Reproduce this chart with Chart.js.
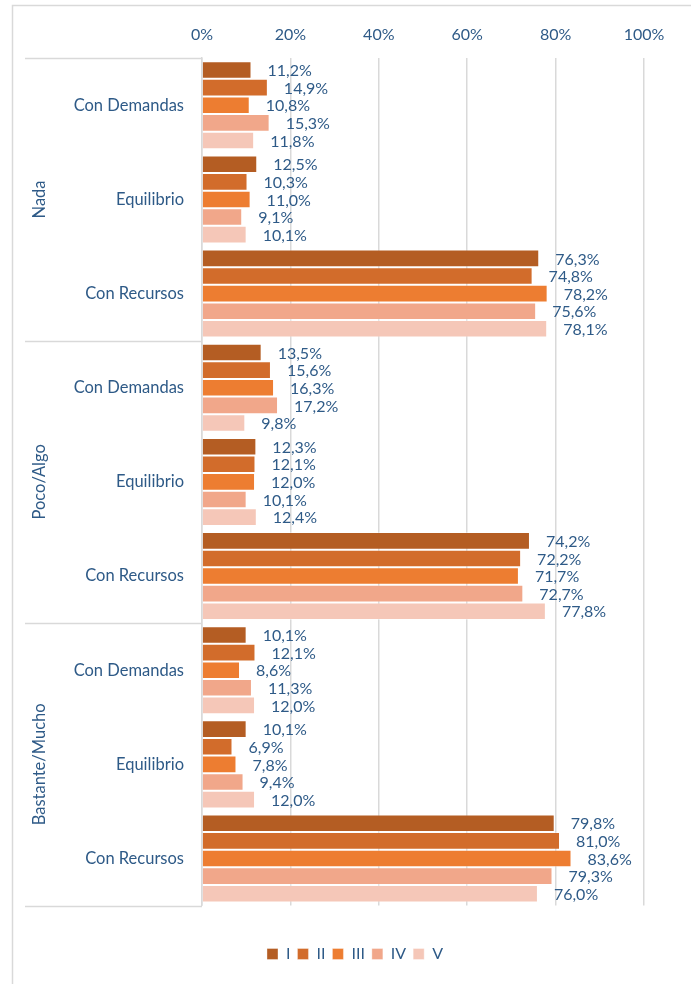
<!DOCTYPE html>
<html>
<head>
<meta charset="utf-8">
<script src="https://cdn.jsdelivr.net/npm/chart.js@4"></script>
<style>
  html, body { margin: 0; padding: 0; background: #fff; }
  #wrap { position: relative; width: 691px; height: 984px; }
</style>
</head>
<body>
<div id="wrap"><canvas id="c" width="691" height="984"></canvas></div>
<script>
const groups = ["Nada", "Poco/Algo", "Bastante/Mucho"];
const subcats = ["Con Demandas", "Equilibrio", "Con Recursos"];
const series = ["I", "II", "III", "IV", "V"];
const xTicks = [0, 20, 40, 60, 80, 100];

// one array per series, in order Nada(CD, Eq, CR), Poco/Algo(...), Bastante/Mucho(...)
const serieI   = [11.2, 12.5, 76.3, 13.5, 12.3, 74.2, 10.1, 10.1, 79.8];
const serieII  = [14.9, 10.3, 74.8, 15.6, 12.1, 72.2, 12.1, 6.9, 81.0];
const serieIII = [10.8, 11.0, 78.2, 16.3, 12.0, 71.7, 8.6, 7.8, 83.6];
const serieIV  = [15.3, 9.1, 75.6, 17.2, 10.1, 72.7, 11.3, 9.4, 79.3];
const serieV   = [11.8, 10.1, 78.1, 9.8, 12.4, 77.8, 12.0, 12.0, 76.0];

const colors = ["#B45D23", "#D26C2B", "#ED7D31", "#F1A78A", "#F5C7B8"];
const textColor = "#2E5A87";
const lineColor = "#D9D9D9";
const font = "Lato";

const labels = [];
groups.forEach(() => subcats.forEach(s => labels.push(s)));

const fmt = v => v.toFixed(1).replace(".", ",") + "%";

// value labels at the end of each bar
const valueLabels = {
  id: "valueLabels",
  afterDatasetsDraw(chart) {
    const ctx = chart.ctx;
    ctx.save();
    ctx.font = "16px " + font;
    ctx.fillStyle = textColor;
    ctx.textAlign = "left";
    ctx.textBaseline = "middle";
    chart.data.datasets.forEach((ds, i) => {
      chart.getDatasetMeta(i).data.forEach((bar, j) => {
        ctx.fillText(fmt(ds.data[j]), bar.x + 16, bar.y + 1);
      });
    });
    ctx.restore();
  }
};

// outer frame, group separators and rotated group names
const groupAxis = {
  id: "groupAxis",
  beforeDraw(chart) {
    const ctx = chart.ctx;
    ctx.save();
    ctx.strokeStyle = lineColor;
    ctx.lineWidth = 1.5;
    ctx.beginPath();
    ctx.moveTo(12.5, 984);
    ctx.lineTo(12.5, 5.5);
    ctx.lineTo(691, 5.5);
    ctx.stroke();
    ctx.restore();
  },
  afterDraw(chart) {
    const ctx = chart.ctx;
    const y = chart.scales.y;
    const a = chart.chartArea;
    const step = (y.getPixelForValue(1) - y.getPixelForValue(0));
    ctx.save();
    ctx.strokeStyle = lineColor;
    ctx.lineWidth = 1.5;
    for (let g = 0; g <= groups.length; g++) {
      const py = g === 0 ? a.top : g === groups.length ? a.bottom
        : y.getPixelForValue(g * 3) - step / 2;
      ctx.beginPath();
      ctx.moveTo(25, Math.round(py) + 0.5);
      ctx.lineTo(a.left, Math.round(py) + 0.5);
      ctx.stroke();
    }
    ctx.fillStyle = textColor;
    ctx.font = "16.5px " + font;
    ctx.textAlign = "center";
    ctx.textBaseline = "middle";
    groups.forEach((g, i) => {
      const cy = y.getPixelForValue(i * 3 + 1);
      ctx.save();
      ctx.translate(40, cy);
      ctx.rotate(-Math.PI / 2);
      ctx.fillText(g, 0, 0);
      ctx.restore();
    });
    ctx.restore();
  }
};

new Chart(document.getElementById("c"), {
  type: "bar",
  data: {
    labels: labels,
    datasets: [serieI, serieII, serieIII, serieIV, serieV].map((d, i) => ({
      label: series[i],
      data: d,
      backgroundColor: colors[i],
      borderColor: "rgba(255,255,255,0.35)",
      borderWidth: 1,
      categoryPercentage: 0.935,
      barPercentage: 1
    }))
  },
  options: {
    indexAxis: "y",
    responsive: false,
    animation: false,
    layout: { padding: { top: 11, right: 47, bottom: 12, left: 66 } },
    scales: {
      x: {
        position: "top",
        min: 0,
        max: 100,
        afterBuildTicks: s => { s.ticks = xTicks.map(v => ({ value: v })); },
        ticks: {
          callback: v => v + "%",
          color: textColor,
          font: { family: font, size: 16 },
          padding: 14
        },
        grid: { color: lineColor, lineWidth: 1.5, drawTicks: false },
        border: { display: false }
      },
      y: {
        afterFit: s => { s.width = 136; },
        ticks: {
          color: textColor,
          font: { family: font, size: 16.5 },
          padding: 18
        },
        grid: { display: false, drawTicks: false },
        border: { display: true, color: lineColor, width: 1.5 }
      }
    },
    plugins: {
      legend: {
        position: "bottom",
        title: { display: true, text: " ", padding: { top: 19, bottom: 0 }, font: { size: 12 } },
        labels: {
          color: textColor,
          font: { family: font, size: 16 },
          boxWidth: 11,
          boxHeight: 11,
          padding: 7
        }
      },
      tooltip: { enabled: false }
    }
  },
  plugins: [valueLabels, groupAxis]
});
</script>
</body>
</html>
